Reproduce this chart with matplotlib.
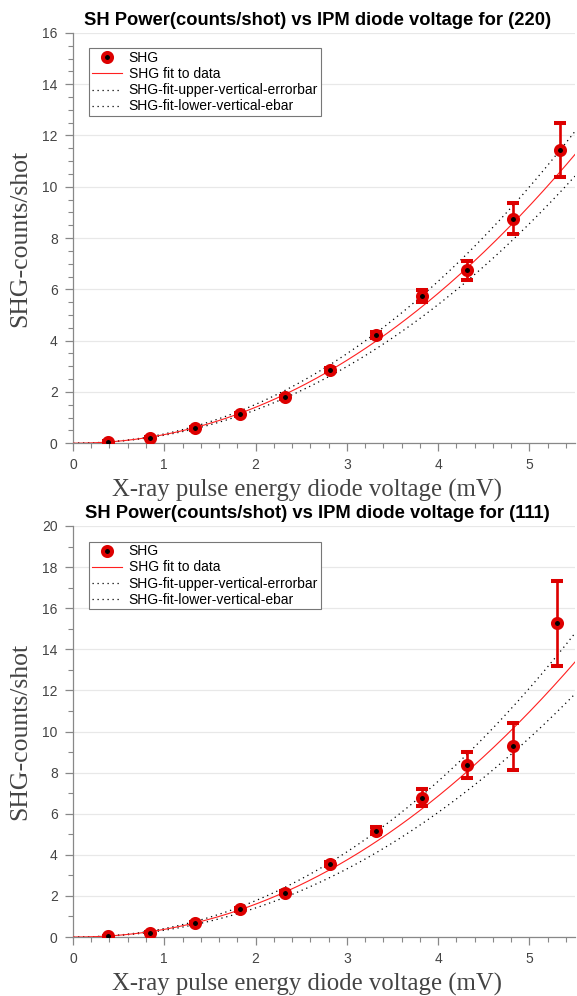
import numpy as np
import matplotlib
matplotlib.use('Agg')
import matplotlib.pyplot as plt
from matplotlib.lines import Line2D
from matplotlib.ticker import MultipleLocator

# data
x_220 = [0.38, 0.84, 1.34, 1.83, 2.32, 2.82, 3.32, 3.82, 4.32, 4.82, 5.34]
y_220 = [0.05, 0.22, 0.58, 1.12, 1.80, 2.85, 4.22, 5.75, 6.75, 8.76, 11.42]
err_220 = [0.02, 0.03, 0.05, 0.05, 0.06, 0.08, 0.12, 0.24, 0.37, 0.6, 1.05]

x_111 = [0.38, 0.84, 1.34, 1.83, 2.32, 2.82, 3.32, 3.82, 4.32, 4.82, 5.30]
y_111 = [0.03, 0.21, 0.67, 1.35, 2.16, 3.54, 5.18, 6.78, 8.38, 9.28, 15.26]
err_111 = [0.02, 0.03, 0.05, 0.06, 0.08, 0.1, 0.16, 0.4, 0.62, 1.14, 2.05]

# power law fit y = a*x^b, and scale of the upper/lower error fits
fit_220 = (0.336, 2.06, 1.08, 0.925)
fit_111 = (0.373, 2.10, 1.105, 0.884)

titles = ['SH Power(counts/shot) vs IPM diode voltage for (220)',
          'SH Power(counts/shot) vs IPM diode voltage for (111)']
ylims = [16, 20]
yminor = [0.5, 1]

plt.rcParams['font.family'] = ['Liberation Sans', 'DejaVu Sans']
fig = plt.figure(figsize=(5.77, 9.96), dpi=100)
ax1 = fig.add_axes([0.1265, 0.555, 0.87, 0.412])
ax2 = fig.add_axes([0.1265, 0.0592, 0.87, 0.4127])

red = '#dd0000'
sets = [(ax1, x_220, y_220, err_220, fit_220), (ax2, x_111, y_111, err_111, fit_111)]
xs = np.linspace(0, 5.5, 300)
for i, (ax, x, y, e, fit) in enumerate(sets):
    a, b, up, lo = fit
    yf = a * xs ** b
    ax.errorbar(x, y, yerr=e, fmt='o', color=red, ms=6.5, mfc='black',
                mec=red, mew=2.9, elinewidth=1.9, capsize=4.3, capthick=1.9,
                zorder=4)
    l1, = ax.plot(xs, yf, color='#ff2020', lw=0.8, zorder=3)
    l2, = ax.plot(xs, yf * up, color='black', lw=0.9, ls=(0, (1, 3)), zorder=2)
    l3, = ax.plot(xs, yf * lo, color='black', lw=0.9, ls=(0, (1, 3)), zorder=2)
    mk = Line2D([], [], ls='none', marker='o', ms=6.5, mfc='black', mec=red, mew=2.9)

    ax.set_xlim(0, 5.5)
    ax.set_ylim(0, ylims[i])
    ax.xaxis.set_major_locator(MultipleLocator(1))
    ax.xaxis.set_minor_locator(MultipleLocator(0.2))
    ax.yaxis.set_major_locator(MultipleLocator(2))
    ax.yaxis.set_minor_locator(MultipleLocator(yminor[i]))
    ax.grid(axis='y', which='major', color='#e8e8e8', lw=0.9)
    ax.set_axisbelow(True)
    for s in ['top', 'right']:
        ax.spines[s].set_visible(False)
    for s in ['left', 'bottom']:
        ax.spines[s].set_color('#888888')
        ax.spines[s].set_linewidth(0.9)
    ax.tick_params(which='both', direction='out', colors='#888888', labelcolor='#444444',
                   labelsize=10)
    ax.tick_params(which='major', length=6, width=0.9, pad=5)
    ax.tick_params(which='minor', length=3.5, width=0.8)
    ax.set_title(titles[i], fontsize=13.2, fontweight='bold', pad=5.5, x=0.487)
    ax.set_xlabel('X-ray pulse energy diode voltage (mV)', family='Liberation Serif',
                  fontsize=17.8, color='#444444')
    ax.xaxis.set_label_coords(0.467, -0.087)
    ax.set_ylabel('SHG-counts/shot', family='Liberation Serif', fontsize=18.5,
                  color='#444444', labelpad=8)
    leg = ax.legend([mk, l1, l2, l3],
                    ['SHG', 'SHG fit to data', 'SHG-fit-upper-vertical-errorbar',
                     'SHG-fit-lower-vertical-ebar'],
                    loc='upper left', bbox_to_anchor=(0.032, 0.962), fontsize=10,
                    fancybox=False, framealpha=1, edgecolor='#777777',
                    borderpad=0.2, labelspacing=0.15, handlelength=2.2,
                    handletextpad=0.45, borderaxespad=0)
    leg.get_frame().set_linewidth(0.8)

fig.savefig('out.png', dpi=100)
